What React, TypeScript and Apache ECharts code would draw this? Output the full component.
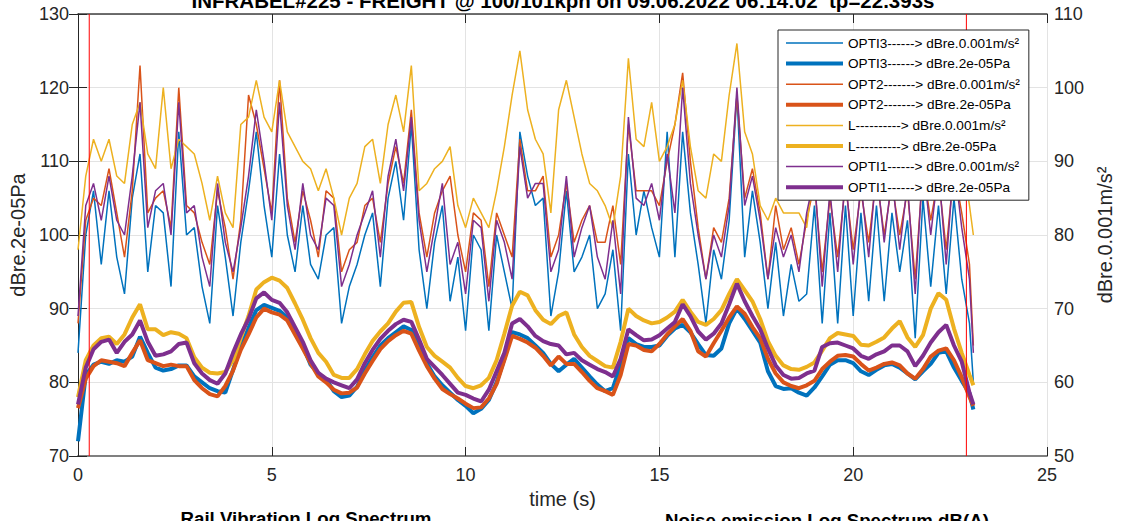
import React, { useEffect, useRef } from "react";
import * as echarts from "echarts";

// ---- sampling grid (s) ----
const time: number[] = Array.from({ length: 116 }, (_, i) => Math.round(i * 2) / 10).concat([23.1]);

// ---- rail vibration (right axis, dBre.0.001m/s²) ----
const opti3Vib = [
  64, 80, 86, 76, 86, 77, 72, 85, 91, 75, 84, 83, 73, 94, 80, 81, 73, 68, 84, 77, 69, 79, 86, 94, 84, 77, 91, 80, 75, 84, 76, 74, 80,
  81, 68, 73, 76, 80, 83, 73, 85, 90, 82, 95, 78, 70, 79, 84, 71, 77, 67, 80, 78, 67, 80, 75, 70, 94, 88, 84, 85, 69, 75, 86,
  75, 77, 80, 70, 72, 78, 67, 91, 80, 86, 81, 77, 94, 77, 94, 83, 76, 68, 78, 74, 82, 99, 77, 86, 79, 70, 79, 69, 76, 71, 72,
  84, 68, 83, 68, 84, 69, 83, 71, 84, 71, 83, 75, 82, 66, 85, 73, 84, 72, 85, 74, 68, 60,
];
const opt2Vib = [
  68, 82, 85, 84, 89, 83, 77, 86, 103, 83, 85, 86, 81, 100, 84, 83, 79, 76, 86, 81, 74, 82, 99, 95, 89, 83, 101, 85, 79, 86, 82, 77, 86,
  85, 75, 78, 79, 84, 85, 79, 87, 92, 87, 97, 83, 77, 83, 86, 88, 80, 75, 83, 82, 73, 83, 80, 77, 93, 86, 86, 88, 77, 80, 87,
  79, 82, 84, 79, 79, 84, 76, 95, 86, 86, 86, 84, 90, 95, 102, 90, 81, 74, 81, 79, 85, 99, 85, 89, 83, 74, 84, 78, 81, 76, 82,
  87, 75, 85, 77, 87, 78, 86, 79, 88, 80, 87, 80, 86, 74, 89, 82, 88, 78, 89, 83, 76, 65,
];
const lVib = [
  78, 88, 93, 90, 93, 88, 87, 95, 98, 91, 89, 100, 89, 93, 92, 91, 87, 82, 88, 83, 81, 95, 96, 101, 96, 94, 101, 94, 92, 90, 89, 86, 89,
  85, 80, 85, 87, 92, 93, 87, 95, 99, 94, 103, 86, 87, 89, 90, 92, 84, 81, 85, 83, 81, 86, 92, 99, 105, 97, 93, 91, 83, 97, 101,
  96, 91, 87, 86, 84, 81, 88, 104, 93, 92, 98, 90, 92, 95, 101, 92, 86, 85, 91, 90, 99, 106, 94, 91, 84, 82, 85, 83, 83, 83, 81,
  90, 86, 92, 87, 93, 88, 92, 87, 93, 89, 93, 88, 92, 86, 94, 90, 93, 87, 94, 91, 84, 80,
];
const opti1Vib = [
  69, 84, 87, 82, 88, 82, 80, 88, 98, 81, 86, 87, 80, 98, 83, 84, 77, 73, 87, 79, 75, 81, 88, 97, 90, 82, 98, 84, 78, 87, 80, 78, 85,
  84, 73, 76, 80, 83, 86, 77, 88, 93, 86, 96, 82, 75, 81, 87, 76, 79, 72, 82, 81, 71, 82, 79, 74, 92, 85, 87, 87, 75, 78, 88,
  77, 81, 84, 77, 74, 82, 72, 96, 85, 84, 87, 82, 91, 83, 100, 87, 80, 74, 80, 77, 84, 100, 84, 88, 82, 74, 81, 77, 80, 75, 83,
  88, 73, 86, 75, 88, 76, 87, 77, 89, 79, 88, 78, 87, 72, 90, 80, 89, 76, 90, 81, 74, 64,
];

// ---- noise emission (left axis, dBre.2e-05Pa) ----
const opti3Noise = [
  72, 81, 82.4, 82.8, 82.5, 83, 82.8, 83.5, 86.2, 84, 82, 81.6, 81.8, 82.3, 82.3, 80.8, 80, 79.2, 78.8, 78.6, 81.7, 84.8, 87.4, 89.8, 90.5, 90.1, 89.7, 88.8, 87, 85, 82.4, 81.2, 80.4,
  78.8, 78, 78.2, 79.4, 81.6, 83.4, 85, 86, 86.8, 87.6, 87.1, 84.8, 82.6, 80.8, 79.6, 78.6, 77.6, 76.8, 75.8, 76.4, 77.6, 80, 83.2, 86.8, 86.5, 86, 85, 84, 82.5, 81.5, 82.4,
  83.2, 82, 80.8, 79.7, 78.8, 79.2, 82.4, 86, 85.2, 84.8, 84.8, 85, 86.3, 87.3, 87.8, 86.8, 85.2, 83.7, 83.6, 84.6, 88, 90, 88.6, 87, 85.4, 81.5, 79.5, 79.1, 79.2, 78.6, 78.2,
  79.3, 80.8, 82.4, 83, 83, 82.6, 81.5, 81, 81.7, 82.3, 82.5, 82, 81.2, 80.4, 81.5, 82.5, 84, 84.2, 82, 80.2, 78.5, 76.3,
];
const opt2Noise = [
  76.5, 80.5, 82.2, 83, 82.8, 82.6, 82.2, 84, 85.7, 83, 82.6, 82.2, 82.4, 82.2, 82.2, 80.3, 79.2, 78.4, 78.1, 79.5, 81.6, 84.4, 86.5, 88.8, 90, 89.5, 89.2, 88.4, 86.5, 84.6, 82.6, 80.8, 80,
  79, 78.5, 78.6, 79.3, 81.2, 82.9, 84.5, 85.6, 86.4, 87, 86.6, 84.3, 82.2, 80.5, 79.1, 78.4, 77.8, 77.1, 76.5, 76.6, 77.8, 79.8, 83, 86.3, 85.9, 85.4, 84.7, 83.6, 82.3, 83.5, 82.5,
  82.5, 81.4, 80.2, 79.2, 78.8, 78.3, 81, 85.2, 85, 84.4, 84.2, 85.2, 86.5, 87.6, 88.6, 87, 84.2, 83.5, 85.3, 87, 88.8, 90.3, 89.3, 87.5, 86, 83.2, 81.2, 80, 79.5, 79.2, 79.6,
  80.2, 81.8, 82.8, 83.6, 83.7, 83.5, 82.5, 81.6, 82, 82.5, 82.7, 82.3, 81.2, 80.5, 81.8, 83.5, 84.3, 84.6, 83, 80.7, 78, 76.8,
];
const lNoise = [
  78, 83, 85, 86, 86.2, 85.2, 86.5, 88.8, 90.6, 87.2, 87.2, 86.4, 86.8, 86.6, 86, 83.4, 82, 81.3, 81.2, 81.4, 83, 86, 89, 92.6, 93.6, 94.2, 93.8, 92.8, 90.7, 88.5, 86, 84, 82.8,
  81, 80.6, 80.6, 81.8, 83.8, 85.6, 86.9, 88, 89.6, 90.8, 90.9, 87.5, 84.8, 83.6, 82.8, 82, 80.6, 79.5, 79.2, 79.6, 80.6, 83, 86.6, 90.4, 92.3, 91.8, 89.8, 88.5, 87.9, 89, 89.5,
  86.5, 84.8, 83.6, 82.9, 82.2, 82, 85.5, 90, 89, 88.4, 88, 88.2, 88.8, 89.6, 91.2, 89.6, 88.2, 87.8, 88.6, 89.8, 92, 94, 92.5, 91, 88.6, 85.6, 83.6, 82.3, 81.8, 81.7, 82.1,
  82.7, 84.3, 86, 86.7, 86.5, 86.3, 85.1, 85, 85.5, 86.1, 87.3, 88.3, 86.1, 84.8, 86.4, 90, 92.1, 91.2, 87.3, 84, 81, 79.6,
];
const opti1Noise = [
  77, 82, 84.5, 85.5, 85.8, 84, 85.5, 86.5, 88.4, 85.5, 83.6, 83.8, 84.2, 85.2, 85.4, 82.6, 81.2, 80.3, 79.8, 81.2, 84, 86.5, 88.6, 91.4, 92.2, 91.2, 90.8, 89.5, 87.5, 85.5, 83, 81.3, 80.5,
  80, 79.6, 79.2, 80.4, 82.6, 84.4, 85.9, 87, 87.9, 88.5, 88.2, 85.8, 83.2, 82.1, 81, 79.8, 78.6, 78.3, 77.8, 77.4, 79, 81.5, 84, 88, 88.6, 87.6, 86.3, 85.6, 85.2, 85, 83.8,
  84, 83, 82.4, 81.8, 81.4, 80.8, 83.2, 87.2, 86.4, 85.7, 85.8, 86.4, 87.3, 88.2, 90.6, 89, 86.9, 85.8, 86.6, 88, 90.6, 93.4, 91, 89, 87.2, 84.6, 82.3, 81, 80.5, 80.6, 81.2,
  81.6, 84.8, 85.3, 85.4, 85, 84.6, 83.6, 83.2, 83.8, 84.2, 85, 85, 84.2, 82.2, 83.6, 85.4, 86.8, 87.8, 85, 82.8, 78.6, 77,
];

// ---- red marker lines (s), drawn across the left axis range ----
const markerTimes = [0.29, 22.92];
const leftRange = [70, 130];

const titleText = "INFRABEL#225 - FREIGHT @ 100/101kph on 09.06.2022 06:14:02  tp=22.393s";
const leftAxisName = "dBre.2e-05Pa";
const rightAxisName = "dBre.0.001m/s²";
const xAxisName = "time (s)";
const subTitles = ["Rail Vibration Log Spectrum", "Noise emission Log Spectrum dB(A)"];

const FONT = "'Liberation Sans', Arial, Helvetica, sans-serif";
const BLUE = "#0072BD";
const ORANGE = "#D95319";
const YELLOW = "#EDB120";
const PURPLE = "#7E2F8E";

const seriesDefs = [
  { name: "OPTI3------> dBre.0.001m/s²", values: opti3Vib, color: BLUE, width: 1.5, axis: 1 },
  { name: "OPTI3------> dBre.2e-05Pa", values: opti3Noise, color: BLUE, width: 4, axis: 0 },
  { name: "OPT2-------> dBre.0.001m/s²", values: opt2Vib, color: ORANGE, width: 1.5, axis: 1 },
  { name: "OPT2-------> dBre.2e-05Pa", values: opt2Noise, color: ORANGE, width: 4, axis: 0 },
  { name: "L----------> dBre.0.001m/s²", values: lVib, color: YELLOW, width: 1.5, axis: 1 },
  { name: "L----------> dBre.2e-05Pa", values: lNoise, color: YELLOW, width: 4, axis: 0 },
  { name: "OPTI1------> dBre.0.001m/s²", values: opti1Vib, color: PURPLE, width: 1.5, axis: 1 },
  { name: "OPTI1------> dBre.2e-05Pa", values: opti1Noise, color: PURPLE, width: 4, axis: 0 },
];

export default function App() {
  const ref = useRef<HTMLDivElement>(null);
  useEffect(() => {
    if (!ref.current) return;
    const chart = echarts.init(ref.current, undefined, { renderer: "svg" });
    const axisColor = "#262626";
    const gridLine = { show: true, lineStyle: { color: "#e3e3e3", width: 1 } };
    const series: any[] = seriesDefs.map((d) => ({
      name: d.name,
      type: "line",
      yAxisIndex: d.axis,
      xAxisIndex: 0,
      data: time.map((t, k) => [t, d.values[k]]),
      symbol: "none",
      showSymbol: false,
      color: d.color,
      lineStyle: { color: d.color, width: d.width },
      emphasis: { disabled: true },
      silent: true,
      z: 2,
    }));
    markerTimes.forEach((t, i) => {
      series.push({
        name: "marker" + i,
        type: "line",
        xAxisIndex: 0,
        yAxisIndex: 0,
        data: leftRange.map((v) => [t, v]),
        symbol: "none",
        showSymbol: false,
        silent: true,
        color: "#ff0000",
        lineStyle: { color: "#ff0000", width: 1 },
        emphasis: { disabled: true },
        z: 3,
      });
    });
    chart.setOption({
      animation: false,
      textStyle: { fontFamily: FONT },
      grid: { left: 78, right: 77, top: 14, bottom: 65, containLabel: false },
      legend: {
        orient: "vertical",
        left: 778,
        top: 30,
        z: 10,
        padding: [6, 9, 6, 6],
        itemGap: 6.6,
        itemWidth: 57,
        itemHeight: 14,
        selectedMode: false,
        backgroundColor: "#ffffff",
        borderColor: "#262626",
        borderWidth: 1,
        borderRadius: 0,
        textStyle: { fontSize: 13.6, color: "#000", fontFamily: FONT },
        data: seriesDefs.map((d) => ({
          name: d.name,
          lineStyle: { width: d.width, color: d.color },
          itemStyle: { color: "rgba(0,0,0,0)", borderWidth: 0 },
        })),
      },
      xAxis: [
        {
          type: "value",
          min: 0,
          max: 25,
          interval: 5,
          position: "bottom",
          name: xAxisName,
          nameLocation: "middle",
          nameGap: 31,
          nameTextStyle: { fontSize: 20, color: axisColor, fontFamily: FONT },
          axisLine: { show: true, lineStyle: { color: "#808080", width: 2 } },
          axisTick: { show: true, inside: true, length: 9, lineStyle: { color: axisColor } },
          axisLabel: { fontSize: 18, color: axisColor, margin: 10, fontFamily: FONT },
          splitLine: gridLine,
        },
        {
          type: "value",
          min: 0,
          max: 25,
          interval: 5,
          position: "top",
          axisLine: { show: true, lineStyle: { color: "#404040", width: 1.5 } },
          axisTick: { show: true, inside: true, length: 9, lineStyle: { color: axisColor } },
          axisLabel: { show: false },
          splitLine: { show: false },
        },
      ],
      yAxis: [
        {
          type: "value",
          min: 70,
          max: 130,
          interval: 10,
          position: "left",
          name: leftAxisName,
          nameLocation: "middle",
          nameRotate: 90,
          nameGap: 48,
          nameTextStyle: { fontSize: 20, color: axisColor, fontFamily: FONT },
          axisLine: { show: true, lineStyle: { color: axisColor, width: 1 } },
          axisTick: { show: true, inside: true, length: 9, lineStyle: { color: axisColor } },
          axisLabel: { fontSize: 18, color: axisColor, margin: 9, fontFamily: FONT },
          splitLine: gridLine,
        },
        {
          type: "value",
          min: 50,
          max: 110,
          interval: 10,
          position: "right",
          name: rightAxisName,
          nameLocation: "middle",
          nameRotate: 90,
          nameGap: 44,
          nameTextStyle: { fontSize: 20, color: axisColor, fontFamily: FONT },
          axisLine: { show: true, lineStyle: { color: axisColor, width: 1 } },
          axisTick: { show: true, inside: true, length: 9, lineStyle: { color: axisColor } },
          axisLabel: { fontSize: 18, color: axisColor, margin: 7, fontFamily: FONT },
          splitLine: { show: false },
        },
      ],
      graphic: [
        {
          type: "text",
          x: 563,
          y: 0,
          silent: true,
          style: {
            text: titleText,
            fill: "#000",
            fontSize: 20.5,
            fontWeight: "bold",
            fontFamily: FONT,
            align: "center",
            verticalAlign: "middle",
          },
        },
        {
          type: "text",
          x: 306,
          y: 509,
          silent: true,
          style: {
            text: subTitles[0],
            fill: "#000",
            fontSize: 18.7,
            fontWeight: "bold",
            fontFamily: FONT,
            align: "center",
            verticalAlign: "top",
          },
        },
        {
          type: "text",
          x: 827,
          y: 511,
          silent: true,
          style: {
            text: subTitles[1],
            fill: "#000",
            fontSize: 18.7,
            fontWeight: "bold",
            fontFamily: FONT,
            align: "center",
            verticalAlign: "top",
          },
        },
      ],
      series,
    });
    return () => chart.dispose();
  }, []);
  return (
    <div
      ref={ref}
      style={{ position: "fixed", left: 0, top: 0, width: 1124, height: 521, background: "#fff" }}
    />
  );
}
